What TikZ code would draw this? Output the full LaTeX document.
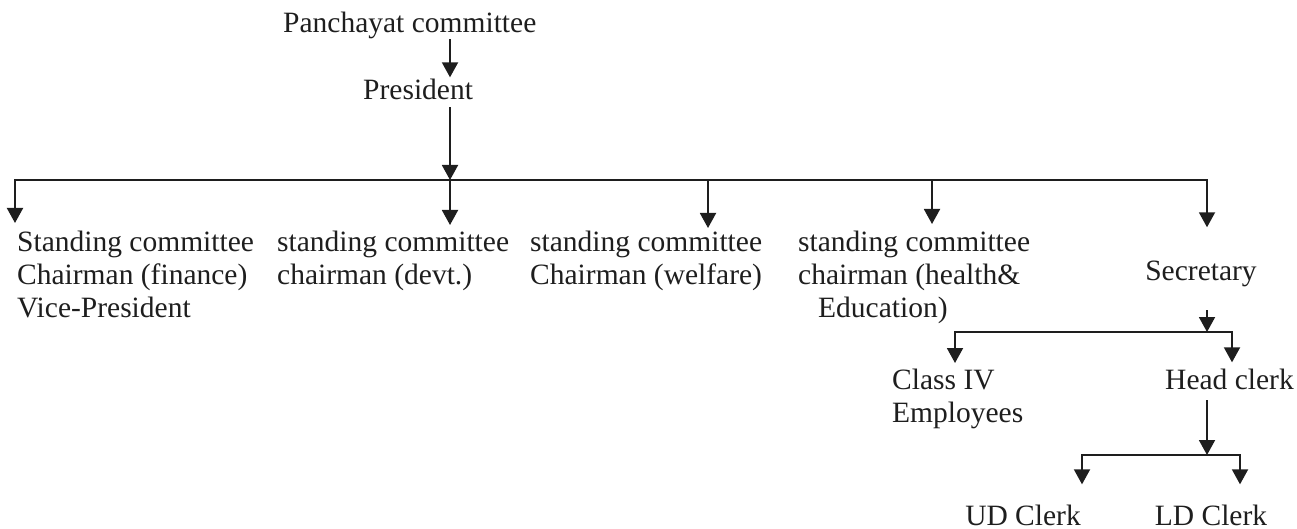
\documentclass[tikz,border=0pt]{standalone}
\usepackage{fontspec}
\setmainfont{Liberation Serif}
\usetikzlibrary{arrows.meta}
\definecolor{ink}{HTML}{1E1E1E}
\begin{document}
\begin{tikzpicture}[x=1pt,y=-1pt,
  lbl/.style={inner sep=0pt, font=\fontsize{29.5}{33}\selectfont, text=ink, align=left},
  link/.style={draw=ink, line width=1.9pt, line cap=rect},
  arr/.style={link, -{Triangle[width=16pt,length=15pt]}}]
  \useasboundingbox (0,0) rectangle (1297,529);

  % top of the hierarchy
  \node[lbl, anchor=base west] (pc) at (283,33) {Panchayat committee};
  \node[lbl, anchor=base west] (pres) at (363,100) {President};
  \coordinate (trunk) at (450,180);
  \coordinate (bL) at (15,180);
  \coordinate (bR) at (1207,180);
  \coordinate (welx) at (708,180);
  \coordinate (heax) at (932,180);

  \draw[arr, shorten >=2pt] (pc.south -| trunk) -- (pres.north -| trunk);
  \draw[arr, shorten <=7pt] (pres.south -| trunk) -- (trunk);
  \draw[link] (bL) -- (bR);

  % standing committees and secretary
  \node[lbl, anchor=north west] (fin) at (17,231) {Standing committee\\Chairman (finance)\\Vice-President};
  \node[lbl, anchor=north west] (dev) at (277,231) {standing committee\\chairman (devt.)};
  \node[lbl, anchor=north west] (wel) at (530,231) {standing committee\\Chairman (welfare)};
  \node[lbl, anchor=north west] (hea) at (798,231) {standing committee\\chairman (health\&\\\hspace*{20pt}Education)};
  \node[lbl, anchor=base] (sec) at (1201,280) {Secretary};

  \draw[arr, shorten >=8pt] (bL) -- (fin.north -| bL);
  \draw[arr, shorten >=6pt] (trunk) -- (dev.north -| trunk);
  \draw[arr, shorten >=3pt] (welx) -- (wel.north -| welx);
  \draw[arr, shorten >=7pt] (heax) -- (hea.north -| heax);
  \draw[arr, shorten >=33pt] (bR) -- (sec.north -| bR);

  % secretary's office
  \coordinate (sb) at (1207,332);
  \coordinate (sbL) at (955,332);
  \coordinate (sbR) at (1232,332);
  \node[lbl, anchor=north west] (cls) at (892,369) {Class IV\\Employees};
  \node[lbl, anchor=base west] (hc) at (1165,389) {Head clerk};
  \draw[arr, shorten <=24pt] (sec.south -| sb) -- (sb);
  \draw[link] (sbL) -- (sbR);
  \draw[arr, shorten >=6pt] (sbL) -- (cls.north -| sbL);
  \draw[arr, shorten >=6pt] (sbR) -- (hc.north -| sbR);

  % clerks
  \coordinate (tb) at (1207,455);
  \coordinate (tbL) at (1082,455);
  \coordinate (tbR) at (1240,455);
  \node[lbl, anchor=base] (ud) at (1023,525) {UD Clerk};
  \node[lbl, anchor=base] (ld) at (1211,525) {LD Clerk};
  \draw[arr, shorten <=11pt] (hc.south -| tb) -- (tb);
  \draw[link] (tbL) -- (tbR);
  \draw[arr, shorten >=20pt] (tbL) -- (ud.north -| tbL);
  \draw[arr, shorten >=20pt] (tbR) -- (ld.north -| tbR);
\end{tikzpicture}
\end{document}
